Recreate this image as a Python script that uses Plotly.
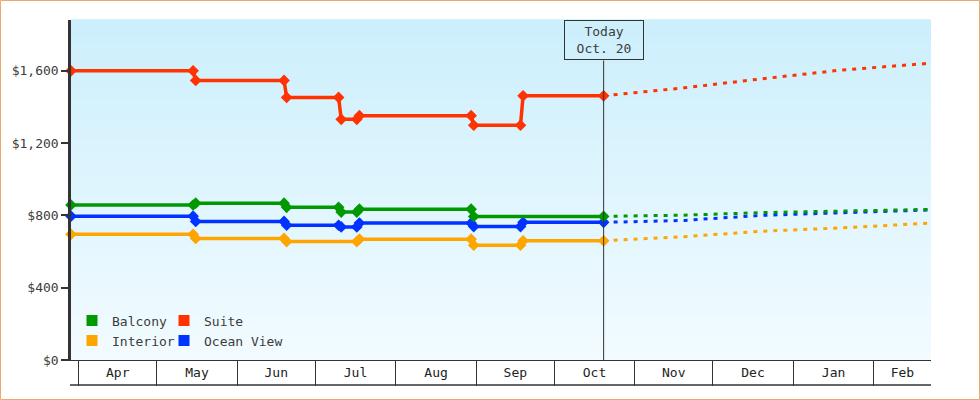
import plotly.graph_objects as go
import pandas as pd

# ---------------- data ----------------
series_names = ["Balcony", "Suite", "Interior", "Ocean View"]
series_colors = ["#009900", "#ff3300", "#ffa500", "#0033ff"]

balcony_dates = ["2018-03-29", "2018-05-15", "2018-05-16", "2018-06-19", "2018-06-20",
                 "2018-07-10", "2018-07-11", "2018-07-17", "2018-07-18", "2018-08-30",
                 "2018-08-31", "2018-10-20"]
balcony_vals = [857, 857, 867, 867, 844, 844, 818, 818, 834, 834, 794, 794]

suite_dates = ["2018-03-29", "2018-05-15", "2018-05-16", "2018-06-19", "2018-06-20",
               "2018-07-10", "2018-07-11", "2018-07-17", "2018-07-18", "2018-08-30",
               "2018-08-31", "2018-09-18", "2018-09-19", "2018-10-20"]
suite_vals = [1599, 1599, 1546, 1546, 1452, 1452, 1331, 1331, 1351, 1351, 1298, 1298, 1461, 1461]

interior_dates = ["2018-03-29", "2018-05-15", "2018-05-16", "2018-06-19", "2018-06-20",
                  "2018-07-17", "2018-07-18", "2018-08-30", "2018-08-31", "2018-09-18",
                  "2018-09-19", "2018-10-20"]
interior_vals = [695, 695, 672, 672, 655, 655, 668, 668, 635, 635, 659, 659]

ocean_dates = ["2018-03-29", "2018-05-15", "2018-05-16", "2018-06-19", "2018-06-20",
               "2018-07-10", "2018-07-11", "2018-07-17", "2018-07-18", "2018-08-30",
               "2018-08-31", "2018-09-18", "2018-09-19", "2018-10-20"]
ocean_vals = [795, 795, 766, 766, 745, 745, 736, 736, 757, 757, 738, 738, 761, 761]

forecast_dates = ["2018-10-20", "2018-11-20", "2018-12-20", "2019-01-20", "2019-02-23"]
balcony_fc = [794, 801, 815, 823, 833]
suite_fc = [1461, 1505, 1555, 1604, 1641]
interior_fc = [659, 682, 712, 731, 757]
ocean_fc = [761, 772, 800, 814, 830]

today_date = "2018-10-20"
today_label = "Today<br>Oct. 20"

month_starts = ["2018-04-01", "2018-05-01", "2018-06-01", "2018-07-01", "2018-08-01",
                "2018-09-01", "2018-10-01", "2018-11-01", "2018-12-01", "2019-01-01",
                "2019-02-01"]
month_labels = ["Apr", "May", "Jun", "Jul", "Aug", "Sep", "Oct", "Nov", "Dec", "Jan", "Feb"]
x_range = ["2018-03-29", "2019-02-23"]

y_ticks = [0, 400, 800, 1200, 1600]
y_tick_labels = ["$0", "$400", "$800", "$1,200", "$1,600"]
y_range = [0, 1880]

# ---------------- figure ----------------
FONT = "DejaVu Sans Mono"
TXT = "#333333"
LBL = "#3c3c3c"

hist = {
    "Balcony": (balcony_dates, balcony_vals, balcony_fc),
    "Suite": (suite_dates, suite_vals, suite_fc),
    "Interior": (interior_dates, interior_vals, interior_fc),
    "Ocean View": (ocean_dates, ocean_vals, ocean_fc),
}
color_of = dict(zip(series_names, series_colors))

fig = go.Figure()

draw_order = ["Interior", "Ocean View", "Balcony", "Suite"]
for name in draw_order:
    d, v, fc = hist[name]
    c = color_of[name]
    fig.add_trace(go.Scatter(
        x=forecast_dates, y=fc, mode="lines",
        line=dict(color=c, width=3, dash="4px,6px"),
        showlegend=False, hoverinfo="skip", cliponaxis=False))
for name in draw_order:
    d, v, fc = hist[name]
    c = color_of[name]
    fig.add_trace(go.Scatter(
        x=d, y=v, mode="lines+markers", name=name,
        line=dict(color=c, width=3.5),
        marker=dict(symbol="diamond", size=9, color=c),
        showlegend=False, cliponaxis=False))

W, H = 980, 400
ML, MR, MT, MB = 71, 49, 20, 40
PW, PH = W - ML - MR, H - MT - MB

# legend entries: 2 x 2 grid, one legend box per entry
legend_grid = [["Balcony", "Suite"], ["Interior", "Ocean View"]]
legend_layout = {}
k = 0
for r, row in enumerate(legend_grid):
    for c, name in enumerate(row):
        k += 1
        lid = "legend" if k == 1 else "legend%d" % k
        fig.add_trace(go.Scatter(
            x=[None], y=[None], mode="markers", name=name,
            marker=dict(symbol="square", size=11, color=color_of[name]),
            legend=lid))
        legend_layout[lid] = dict(
            orientation="v", x=(72 + 92 * c - ML) / PW, xanchor="left",
            y=(360 - (320.5 + 20 * r)) / PH, yanchor="middle",
            bgcolor="rgba(0,0,0,0)", font=dict(family=FONT, size=13, color=LBL),
            itemclick=False, itemdoubleclick=False)

# mid-month label positions
ms = pd.to_datetime(month_starts)
ends = list(ms[1:]) + [pd.Timestamp(x_range[1])]
mids = [s + (e - s) / 2 for s, e in zip(ms, ends)]

shapes = []
# gradient background bands
n = 60
top = (204, 239, 252)
bot = (242, 251, 255)
for i in range(n):
    t = i / (n - 1)
    col = tuple(round(bot[j] + (top[j] - bot[j]) * t) for j in range(3))
    shapes.append(dict(type="rect", xref="paper", yref="paper",
                       x0=0, x1=1, y0=i / n, y1=(i + 1) / n + 0.002,
                       fillcolor="rgb(%d,%d,%d)" % col, line=dict(width=0),
                       layer="below"))
# today line
shapes.append(dict(type="line", xref="x", yref="paper", x0=today_date, x1=today_date,
                   y0=0, y1=(PH - 40.5) / PH, line=dict(color=TXT, width=1)))
# bottom line of month table
shapes.append(dict(type="line", xref="paper", yref="paper", x0=-1 / PW, x1=1,
                   y0=-25 / PH, y1=-25 / PH, line=dict(color=TXT, width=1.5)))
# outer frame
shapes.append(dict(type="rect", xref="paper", yref="paper",
                   x0=(0.5 - ML) / PW, x1=(W - 0.5 - ML) / PW,
                   y0=-(MB - 0.5) / PH, y1=1 + (MT - 0.5) / PH,
                   line=dict(color="#e8ab6c", width=1), fillcolor="rgba(0,0,0,0)"))

fig.update_layout(
    width=W, height=H,
    margin=dict(l=ML, r=MR, t=MT, b=MB, pad=0),
    paper_bgcolor="white", plot_bgcolor="rgba(0,0,0,0)",
    font=dict(family=FONT, size=13, color=LBL),
    shapes=shapes,
    xaxis=dict(
        type="date", range=x_range, showgrid=False, zeroline=False,
        showline=True, linecolor=TXT, linewidth=1,
        tickmode="array", tickvals=mids, ticktext=month_labels, ticks="",
        ticklabelstandoff=0,
        tickfont=dict(family=FONT, size=13, color="#222"),
        minor=dict(tickmode="array", tickvals=month_starts, ticks="outside",
                   ticklen=25, tickwidth=1, tickcolor=TXT, showgrid=False),
    ),
    yaxis=dict(
        range=y_range, showgrid=False, zeroline=False,
        showline=True, linecolor=TXT, linewidth=2.5,
        tickmode="array", tickvals=y_ticks, ticktext=y_tick_labels,
        ticks="outside", ticklen=7, tickwidth=2, tickcolor=TXT,
        tickfont=dict(family=FONT, size=13, color=LBL),
    ),
    annotations=[dict(
        x=today_date, xref="x", y=1, yref="paper", yanchor="top", xanchor="center",
        text=today_label, showarrow=False, align="center",
        font=dict(family=FONT, size=13, color=LBL),
        bordercolor=TXT, borderwidth=1, borderpad=2, width=74, height=34,
        bgcolor="rgba(0,0,0,0)")],
    showlegend=True,
    **legend_layout,
)

fig.write_html("out.html", config={"displayModeBar": False},
               post_script="document.body.style.margin='0';document.body.style.padding='0';")
